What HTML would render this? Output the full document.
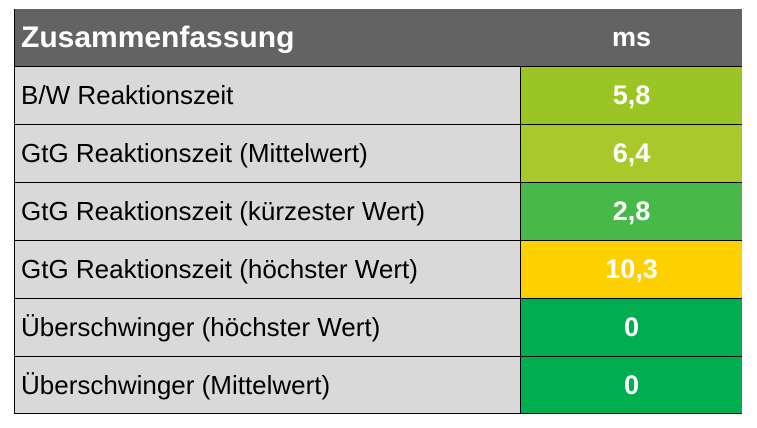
<!DOCTYPE html>
<html><head><meta charset="utf-8"><style>
body{margin:0;width:757px;height:428px;background:#fff;overflow:hidden;font-family:"Liberation Sans",sans-serif}
.t{position:absolute;left:14px;top:9px;width:727px;height:405px}
.r{position:absolute;left:0;width:727px;display:flex;box-sizing:border-box;border-bottom:1px solid #000}
.a{width:506px;box-sizing:border-box;padding-left:6px;display:flex;align-items:center;font-size:26px;color:#000;background:#d9d9d9;border-right:1px solid #000;white-space:nowrap}
.b{flex:1;display:flex;align-items:center;justify-content:center;font-size:27px;font-weight:bold;color:#fff}
.h{background:#636363}
.h .a{background:#636363;color:#fff;font-weight:bold;font-size:30px;border-right:none}
</style></head><body>
<div class="t" style="border-left:1px solid #000;border-right:1px solid #000;box-sizing:border-box">
<div class="r h" style="top:0;height:58px"><div class="a">Zusammenfassung</div><div class="b">ms</div></div>
<div class="r" style="top:58px;height:58px"><div class="a">B/W Reaktionszeit</div><div class="b" style="background:#9bc524">5,8</div></div>
<div class="r" style="top:116px;height:58px"><div class="a">GtG Reaktionszeit (Mittelwert)</div><div class="b" style="background:#a9c92a">6,4</div></div>
<div class="r" style="top:174px;height:58px"><div class="a">GtG Reaktionszeit (kürzester Wert)</div><div class="b" style="background:#47b94a">2,8</div></div>
<div class="r" style="top:232px;height:58px"><div class="a">GtG Reaktionszeit (höchster Wert)</div><div class="b" style="background:#fed000">10,3</div></div>
<div class="r" style="top:290px;height:58px"><div class="a">Überschwinger (höchster Wert)</div><div class="b" style="background:#00ad50">0</div></div>
<div class="r" style="top:348px;height:57px"><div class="a">Überschwinger (Mittelwert)</div><div class="b" style="background:#00ad50">0</div></div>
</div>
</body></html>
